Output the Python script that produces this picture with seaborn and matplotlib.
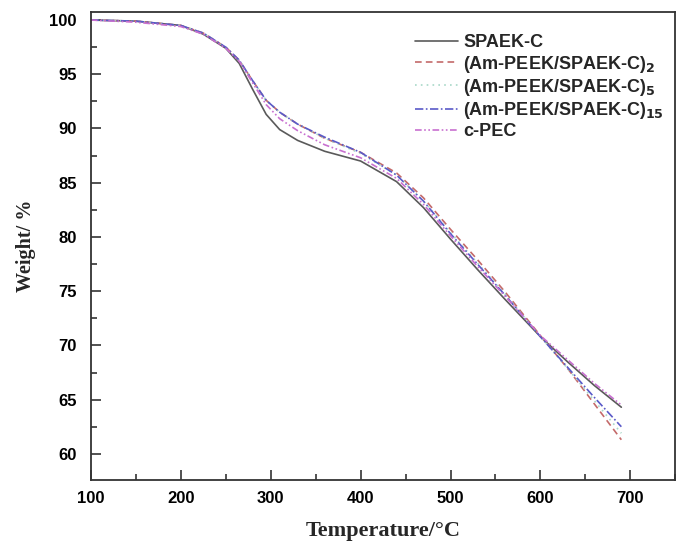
import numpy as np
import pandas as pd
import matplotlib
matplotlib.use('Agg')
import matplotlib.pyplot as plt
import seaborn as sns
from matplotlib.ticker import MultipleLocator

sns.set_style('ticks')
plt.rcParams['font.family'] = ['Liberation Sans', 'DejaVu Sans']

# TGA curves
temp = [100, 150, 200, 225, 250, 265, 280, 295, 310, 330, 360, 400, 440, 470, 500, 530, 560, 600, 630, 660, 690]
spaek_c = [100.0, 99.9, 99.5, 98.7, 97.4, 96.0, 93.6, 91.3, 89.9, 88.9, 87.9, 87.0, 85.1, 82.7, 79.8, 77.0, 74.3, 70.8, 68.5, 66.3, 64.3]
am_2 = [100.0, 99.9, 99.5, 98.8, 97.5, 96.3, 94.4, 92.6, 91.5, 90.4, 89.1, 87.8, 85.9, 83.6, 80.7, 77.9, 75.0, 70.9, 67.9, 64.6, 61.3]
am_5 = [100.0, 99.9, 99.5, 98.8, 97.5, 96.3, 94.4, 92.6, 91.5, 90.4, 89.1, 87.7, 85.7, 83.3, 80.4, 77.6, 74.8, 70.8, 67.9, 64.9, 61.9]
am_15 = [100.0, 99.9, 99.5, 98.8, 97.5, 96.3, 94.4, 92.6, 91.5, 90.4, 89.2, 87.8, 85.7, 83.3, 80.3, 77.5, 74.7, 70.8, 68.0, 65.2, 62.5]
c_pec = [100.0, 99.8, 99.4, 98.7, 97.4, 96.2, 94.2, 92.2, 90.9, 89.8, 88.5, 87.3, 85.4, 83.0, 80.1, 77.3, 74.6, 70.9, 68.7, 66.5, 64.5]

labels = ['SPAEK-C',
          '(Am-PEEK/SPAEK-C)$_{\\mathbf{2}}$',
          '(Am-PEEK/SPAEK-C)$_{\\mathbf{5}}$',
          '(Am-PEEK/SPAEK-C)$_{\\mathbf{15}}$',
          'c-PEC']
series = [spaek_c, am_2, am_5, am_15, c_pec]
colors = ['#5a5a5a', '#c46a6a', '#a8d8c8', '#5a5ac8', '#c870d0']
styles = ['-', (0, (4, 2.5)), (0, (1, 2.5)), (0, (5, 1.5, 1, 1.5)), (0, (4, 1.5, 1, 1.5, 1, 1.5))]

fig = plt.figure(figsize=(6.78, 5.41), dpi=100)
ax = fig.add_axes([0.134, 0.113, 0.862, 0.865])

for lab, ys, c, ls in zip(labels, series, colors, styles):
    sns.lineplot(x=temp, y=ys, ax=ax, color=c, linestyle=ls, linewidth=1.2, label=lab)

ax.set_xlim(100, 750)
ax.set_ylim(57.6, 100.75)
ax.xaxis.set_major_locator(MultipleLocator(100))
ax.xaxis.set_minor_locator(MultipleLocator(50))
ax.yaxis.set_major_locator(MultipleLocator(5))
ax.yaxis.set_minor_locator(MultipleLocator(2.5))
ax.tick_params(which='both', direction='in', top=False, right=False, width=1.2, colors='#333333')
ax.tick_params(which='major', length=7, labelsize=12, labelcolor='black')
ax.tick_params(axis='x', which='major', pad=8)
ax.tick_params(axis='y', which='major', pad=10)
ax.tick_params(which='minor', length=4)
for lbl in ax.get_xticklabels() + ax.get_yticklabels():
    lbl.set_fontweight('bold')
for s in ax.spines.values():
    s.set_linewidth(1.3)
    s.set_color('#333333')

ax.set_xlabel('Temperature/°C', family='Liberation Serif', fontweight='bold', fontsize=16, labelpad=11)
ax.set_ylabel('Weight/ %', family='Liberation Serif', fontweight='bold', fontsize=14.5, labelpad=10)

leg = ax.legend(loc='upper left', bbox_to_anchor=(0.555, 0.952), frameon=False,
                prop={'weight': 'bold', 'size': 13}, handlelength=2.35, handletextpad=0.3,
                labelspacing=0.12, borderpad=0, borderaxespad=0)

fig.savefig('out.png', dpi=100)
